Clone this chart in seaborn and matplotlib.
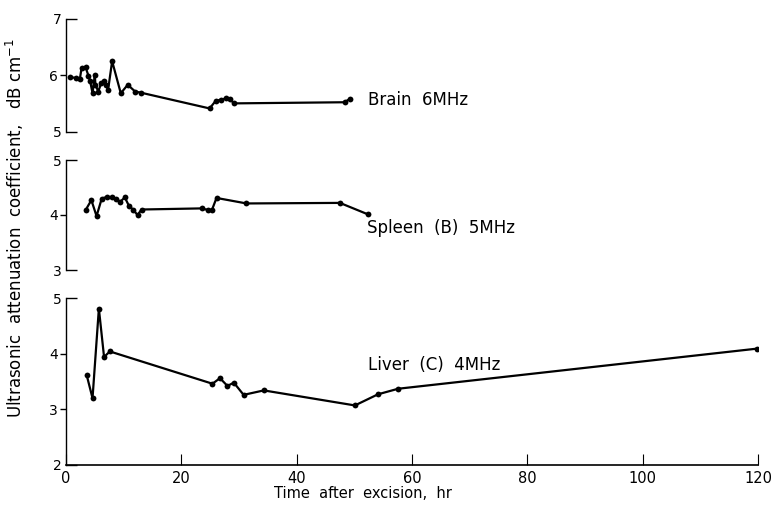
import numpy as np
import pandas as pd
import matplotlib
matplotlib.use("Agg")
import matplotlib.pyplot as plt
import seaborn as sns

# ---- data ----
brain_t = [0.7, 1.7, 2.4, 2.7, 3.4, 3.9, 4.2, 4.6, 5.0, 5.1, 5.6, 6.1, 6.6, 6.9, 7.3, 8.0,
           9.5, 10.7, 12.0, 13.0, 24.9, 26.0, 26.8, 27.7, 28.4, 29.2, 48.3, 49.2]
brain_v = [5.97, 5.95, 5.93, 6.13, 6.14, 5.99, 5.89, 5.68, 6.01, 5.83, 5.71, 5.86, 5.89, 5.83,
           5.74, 6.25, 5.68, 5.83, 5.71, 5.69, 5.41, 5.55, 5.56, 5.59, 5.57, 5.50, 5.52, 5.58]

spleen_t = [3.4, 4.4, 5.3, 6.2, 7.1, 7.9, 8.7, 9.4, 10.2, 10.9, 11.7, 12.4, 13.1,
            23.5, 24.7, 25.3, 26.1, 31.3, 47.5, 52.4]
spleen_v = [4.09, 4.27, 3.98, 4.30, 4.33, 4.32, 4.29, 4.24, 4.32, 4.17, 4.09, 4.00, 4.10,
            4.12, 4.09, 4.09, 4.31, 4.21, 4.22, 4.01]

liver_t = [3.6, 4.6, 5.7, 6.6, 7.6, 25.4, 26.7, 28.0, 29.1, 30.8, 34.3, 50.1, 54.1, 57.6, 119.8]
liver_v = [3.61, 3.20, 4.81, 3.94, 4.04, 3.46, 3.56, 3.42, 3.48, 3.26, 3.34, 3.07, 3.27, 3.37, 4.09]

labels = ["Brain  6MHz", "Spleen  (B)  5MHz", "Liver  (C)  4MHz"]
ylims = [(5, 7), (3, 5), (2, 5)]
x_ticks = [0, 20, 40, 60, 80, 100, 120]
x_label = "Time  after  excision,  hr"
y_label = "Ultrasonic  attenuation  coefficient,   dB cm$^{-1}$"

sns.set_style("ticks", {"axes.edgecolor": "black", "text.color": "black",
                        "xtick.color": "black", "ytick.color": "black"})
plt.rcParams['font.family'] = ['DejaVu Sans']

fig = plt.figure(figsize=(7.74, 5.14), dpi=100)
left, width = 66 / 774, (758 - 66) / 774
# (top px, bottom px) of each panel
panels_px = [(19, 131.5), (160, 270), (298, 465)]
series = [(brain_t, brain_v), (spleen_t, spleen_v), (liver_t, liver_v)]
label_pos = [(368, 100), (367, 228), (368, 365)]

for i, ((top, bot), (t, v), lab, yl, lp) in enumerate(zip(panels_px, series, labels, ylims, label_pos)):
    ax = fig.add_axes([left, 1 - bot / 514, width, (bot - top) / 514])
    df = pd.DataFrame({"t": t, "v": v})
    sns.lineplot(data=df, x="t", y="v", ax=ax, color="black", linewidth=1.6,
                 marker="o", markersize=4.2, markeredgewidth=0, sort=False)
    ax.set_xlim(0, 120)
    ax.set_ylim(*yl)
    for s in ["top", "right"]:
        ax.spines[s].set_visible(False)
    ax.spines["left"].set_linewidth(1.0)
    ends = [yl[0], yl[1]]
    mids = list(range(yl[0] + 1, yl[1]))
    ax.set_yticks(ends, labels=[str(e) for e in ends])
    ax.set_yticks(mids, labels=[str(m) for m in mids], minor=True)
    ax.tick_params(axis="y", which="major", direction="in", length=8, width=1, labelsize=10, pad=3)
    ax.tick_params(axis="y", which="minor", direction="out", length=4, width=1, labelsize=10, pad=2)
    ax.set_xlabel("")
    ax.set_ylabel("")
    if i < 2:
        ax.spines["bottom"].set_visible(False)
        ax.set_xticks([])
    else:
        ax.spines["bottom"].set_linewidth(1.2)
        ax.set_xticks(x_ticks, labels=[str(x) for x in x_ticks])
        ax.tick_params(axis="x", direction="in", length=8, width=0.8, labelsize=10.5, pad=4)
    ax.patch.set_alpha(0)
    fig.text(lp[0] / 774, 1 - lp[1] / 514, lab, fontsize=12, ha="left", va="center")

fig.text(363 / 774, 1 - 493 / 514, x_label, fontsize=10.5, ha="center", va="center")
fig.text(15 / 774, 1 - 228 / 514, y_label, fontsize=12, ha="center", va="center", rotation=90)

fig.savefig("out.png", dpi=100)
